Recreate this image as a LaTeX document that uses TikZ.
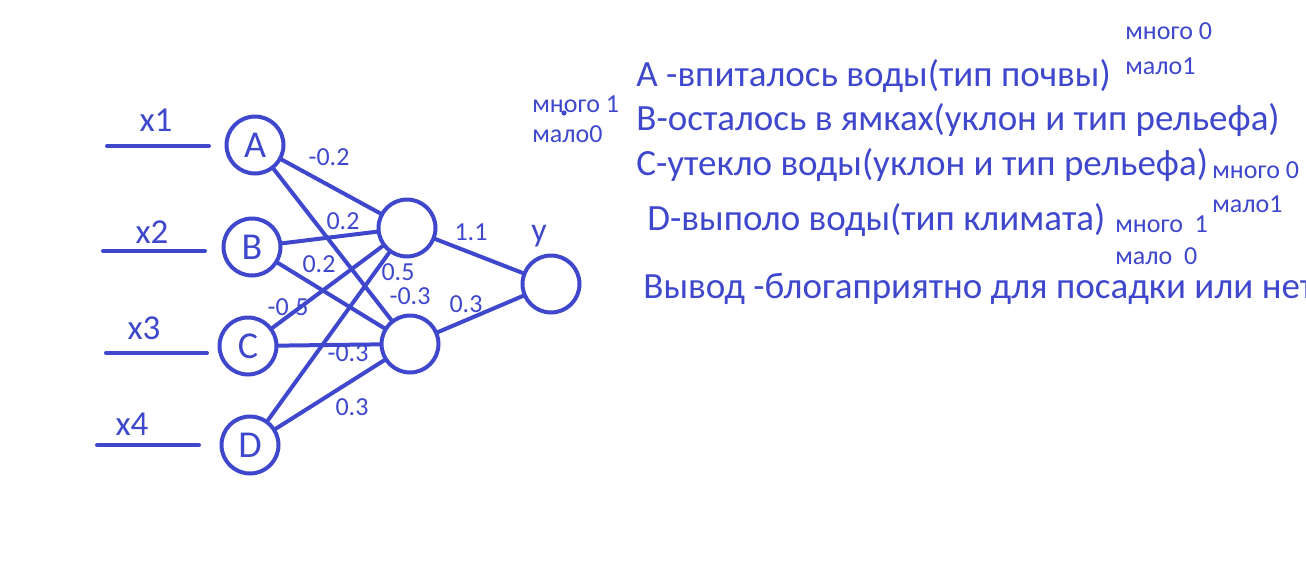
\documentclass[tikz,border=0pt]{standalone}
\usepackage{fontspec}
\setmainfont{Carlito}
\definecolor{pb}{RGB}{63,72,204}
\begin{document}
\begin{tikzpicture}[x=0.5pt,y=-0.5pt,
  every node/.style={text=pb},
  neuron/.style={circle, draw=pb, line width=2pt, minimum size=28.5pt, inner sep=0pt, font=\fontsize{19}{21}\selectfont},
  wire/.style={draw=pb, line width=2pt, line cap=round},
  wlab/.style={font=\fontsize{13}{15}\selectfont, inner sep=0pt},
  xlab/.style={font=\fontsize{17.5}{19}\selectfont, inner sep=0pt},
  note/.style={font=\fontsize{18.5}{22}\selectfont, anchor=base west, inner sep=0pt},
  small/.style={font=\fontsize{13}{14}\selectfont, anchor=base west, inner sep=0pt}]
\useasboundingbox (0,0) rectangle (1306,563);
\clip (0,0) rectangle (1306,563);

% neurons
\node[neuron] (A) at (255,145) {A};
\node[neuron] (B) at (252,247) {B};
\node[neuron] (C) at (248,346) {C};
\node[neuron] (D) at (250,445) {D};
\node[neuron] (H1) at (407,228) {};
\node[neuron] (H2) at (410,344) {};
\node[neuron] (Y) at (551,284) {};

% inputs
\coordinate (x1s) at (107,146); \coordinate (x1e) at (209,146);
\coordinate (x2s) at (103,251); \coordinate (x2e) at (205,251);
\coordinate (x3s) at (106,353); \coordinate (x3e) at (207,353);
\coordinate (x4s) at (97,445);  \coordinate (x4e) at (199,445);
\draw[wire] (x1s) -- (x1e);
\draw[wire] (x2s) -- (x2e);
\draw[wire] (x3s) -- (x3e);
\draw[wire] (x4s) -- (x4e);
\node[xlab] (lx1) at (156,120) {x1};
\node[xlab] (lx2) at (152,232) {x2};
\node[xlab] (lx3) at (144,328) {x3};
\node[xlab] (lx4) at (132,424) {x4};

% connections
\draw[wire] (A) -- (H1);
\draw[wire] (A) -- (H2);
\draw[wire] (B) -- (H1);
\draw[wire] (B) -- (H2);
\draw[wire] (C) -- (H1);
\draw[wire] (C) -- (H2);
\draw[wire] (D) -- (H1);
\draw[wire] (D) -- (H2);
\draw[wire] (H1) -- (Y);
\draw[wire] (H2) -- (Y);

% weights
\node[wlab] (w1) at (329,157) {-0.2};
\node[wlab] (w2) at (343,221) {0.2};
\node[wlab] (w3) at (319,264) {0.2};
\node[wlab] (w4) at (398,272) {0.5};
\node[wlab] (w5) at (410,296) {-0.3};
\node[wlab] (w6) at (288,307) {-0.5};
\node[wlab] (w7) at (348,353) {-0.3};
\node[wlab] (w8) at (352,407) {0.3};
\node[wlab] (w9) at (471,232) {1.1};
\node[wlab] (w10) at (466,304) {0.3};
\node[font=\fontsize{17}{19}\selectfont, inner sep=0pt] (ylab) at (539,236) {y};

% small notes near network
\node[small] (n1) at (532,112) {много 1};
\node[small] (n2) at (532,142) {мало0};
\fill[pb] (564,113) circle (1.3pt);

% right-hand text
\node[note] (tA) at (636,86) {А -впиталось воды(тип почвы)};
\node[note] (tB) at (636,130) {В-осталось в ямках(уклон и тип рельефа)};
\node[note] (tC) at (636,175) {С-утекло воды(уклон и тип рельефа)};
\node[note] (tD) at (647,230) {D-выполо воды(тип климата)};
\node[note] (tE) at (643,298) {Вывод -блогаприятно для посадки или нет};

\node[small] (sA1) at (1125,39) {много 0};
\node[small] (sA2) at (1125,74) {мало1};
\node[small] (sC1) at (1212,178) {много 0};
\node[small] (sC2) at (1212,212) {мало1};
\node[small] (sD1) at (1115,232) {много\ \ 1};
\node[small] (sD2) at (1115,264) {мало\ \ 0};
\end{tikzpicture}
\end{document}
